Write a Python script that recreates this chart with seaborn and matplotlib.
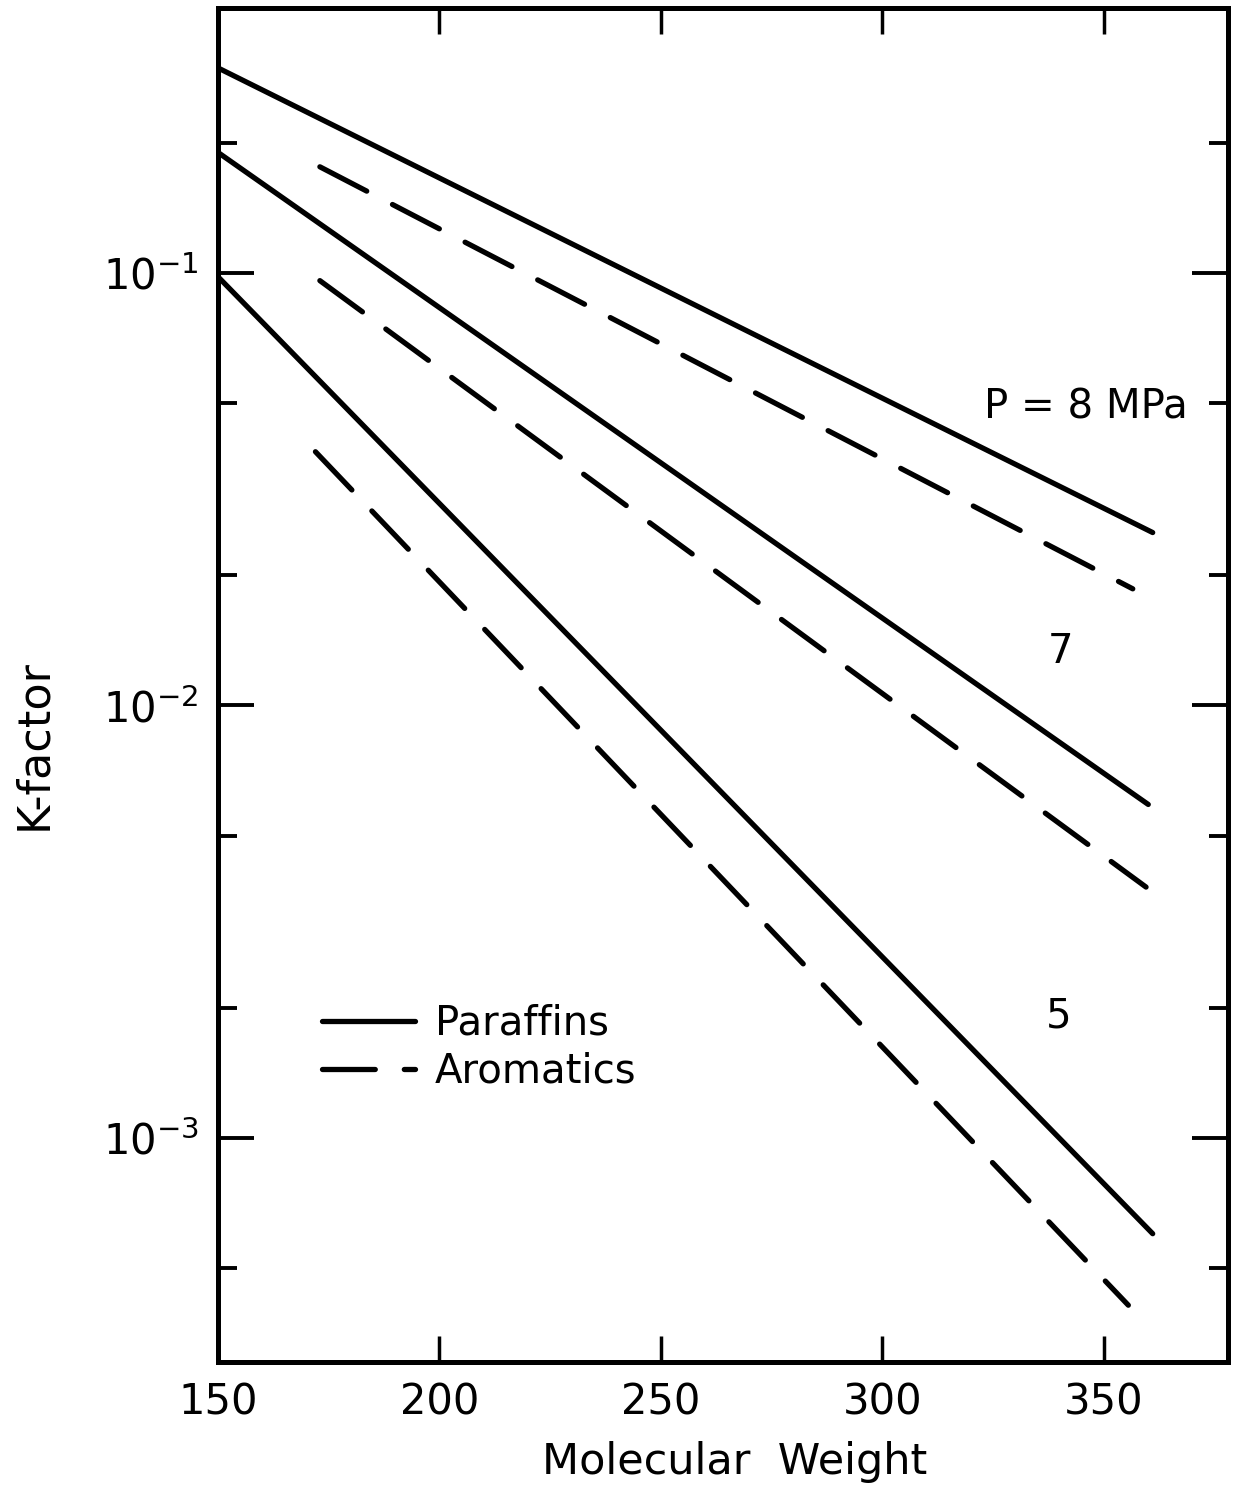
import matplotlib
matplotlib.use('Agg')
import matplotlib.pyplot as plt
import pandas as pd
import numpy as np
import seaborn as sns
from matplotlib.ticker import LogLocator, FixedLocator, NullFormatter

# values (straight lines on log scale: two end points each)
pressures = ['8', '7', '5']
paraffin_mw = [[150, 361], [150, 360], [150, 361]]
paraffin_k = [[0.298, 0.0251], [0.19, 0.0059], [0.098, 0.00060]]
aromatic_mw = [[173, 356.5], [173, 359.5], [172, 355.5]]
aromatic_k = [[0.176, 0.0186], [0.096, 0.0038], [0.0386, 0.00041]]

x_ticks = [150, 200, 250, 300, 350]
pressure_labels = ['P = 8 MPa', '7', '5']
label_pos = [(346, 0.0488), (340.3, 0.0133), (339.8, 0.00191)]


def build_frame():
	rows = []
	for i, p in enumerate(pressures):
		for mw, k in zip(paraffin_mw[i], paraffin_k[i]):
			rows.append({'mw': mw, 'k': k, 'pressure': p, 'compound': 'Paraffins'})
		for mw, k in zip(aromatic_mw[i], aromatic_k[i]):
			rows.append({'mw': mw, 'k': k, 'pressure': p, 'compound': 'Aromatics'})
	return pd.DataFrame(rows)


if __name__ == '__main__':
	sns.set_style('ticks')
	plt.rcParams['font.family'] = ['DejaVu Sans']
	plt.rcParams['axes.linewidth'] = 3.6
	plt.rcParams['text.color'] = 'black'
	plt.rcParams['axes.labelcolor'] = 'black'
	plt.rcParams['xtick.color'] = 'black'
	plt.rcParams['ytick.color'] = 'black'

	fig = plt.figure(figsize=(12.42, 14.92), dpi=100)
	ax = fig.add_axes([218 / 1242, 1 - 1362 / 1492, 1010 / 1242, 1354 / 1492])

	df = build_frame()
	sns.lineplot(data=df, x='mw', y='k', units='pressure', estimator=None,
				 style='compound', style_order=['Paraffins', 'Aromatics'],
				 dashes={'Paraffins': '', 'Aromatics': (10, 5.5)},
				 color='black', linewidth=3.8, ax=ax,
				 solid_capstyle='round', dash_capstyle='round')

	ax.set_yscale('log')
	ax.set_xlim(150, 378)
	ax.set_ylim(3.03e-4, 0.41)

	ax.xaxis.set_major_locator(FixedLocator(x_ticks))
	ax.yaxis.set_major_locator(LogLocator(base=10))
	ax.yaxis.set_minor_locator(LogLocator(base=10, subs=(2, 5)))
	ax.yaxis.set_minor_formatter(NullFormatter())

	ax.tick_params(axis='x', which='major', direction='in', length=19, width=2.5,
				   top=True, bottom=True, labelsize=30, pad=14, color='black',
				   labelcolor='black')
	ax.tick_params(axis='y', which='major', direction='in', length=26, width=2.8,
				   left=True, right=True, labelsize=30, pad=14, color='black',
				   labelcolor='black')
	ax.tick_params(axis='y', which='minor', direction='in', length=14, width=2.8,
				   left=True, right=True, color='black')
	for s in ax.spines.values():
		s.set_color('black')
		s.set_linewidth(3.6)

	for txt, (x, y) in zip(pressure_labels, label_pos):
		ax.text(x, y, txt, fontsize=29, ha='center', va='center', color='black')

	ax.set_xlabel('Molecular  Weight', fontsize=31, color='black')
	ax.xaxis.set_label_coords(0.512, -0.058)
	ax.set_ylabel('K-factor', fontsize=32, color='black')
	ax.yaxis.set_label_coords(-0.161, 0.456)

	handles, labels = ax.get_legend_handles_labels()
	leg = ax.legend(handles, labels, loc='center left', bbox_to_anchor=(0.103, 0.232),
					frameon=False, fontsize=29, handlelength=2.3, handletextpad=0.5,
					labelspacing=0.2, borderpad=0, borderaxespad=0)
	for h in leg.get_lines():
		h.set_color('black')
		h.set_linewidth(3.8)
	for t in leg.get_texts():
		t.set_color('black')

	fig.savefig('out.png', dpi=100)
